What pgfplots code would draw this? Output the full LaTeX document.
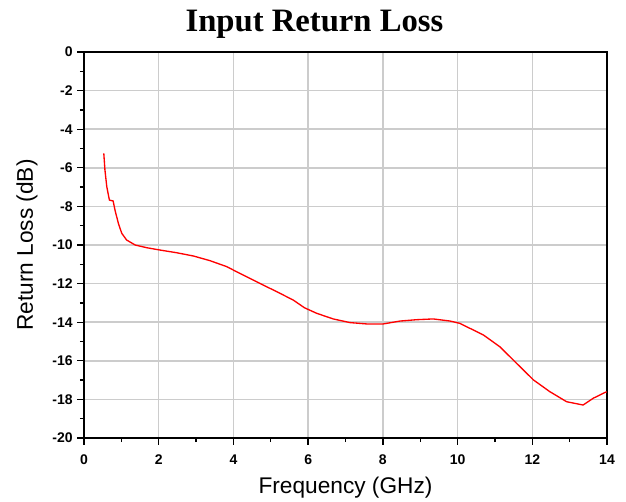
\documentclass[border=0pt]{standalone}
\usepackage{fontspec}
\setmainfont{Liberation Sans}
\newfontfamily\titlefont{Liberation Serif}
\usepackage{pgfplots}
\pgfplotsset{compat=1.18}
\definecolor{gridgray}{RGB}{204,204,204}
\begin{document}
\begin{tikzpicture}
\begin{axis}[
  scale only axis,
  width=392.25pt, height=289.5pt,
  xmin=0, xmax=14, ymin=-20, ymax=0,
  clip=false,
  xtick={0,2,...,14}, ytick={-20,-18,...,0},
  xticklabels={0,2,4,6,8,10,12,14},
  yticklabels={-20,-18,-16,-14,-12,-10,-8,-6,-4,-2,0},
  minor x tick num=1, minor y tick num=1,
  tick align=outside,
  xtick pos=bottom, ytick pos=left,
  major tick length=5pt, minor tick length=3pt,
  every tick/.style={black, line width=1pt},
  axis line style={line width=1.4pt},
  grid=major,
  major grid style={gridgray, line width=1.1pt},
  ticklabel style={font=\fontsize{10.5}{12}\selectfont\bfseries},
  x tick label style={yshift=-4pt},
  xlabel={Frequency (GHz)},
  ylabel={Return Loss (dB)},
  label style={font=\fontsize{17}{20}\selectfont},
  x label style={at={(axis description cs:0.5,-0.145)}, anchor=base},
  y label style={at={(axis description cs:-0.109,0.5)}, anchor=center},
]
\addplot[red, line width=1pt] coordinates {
  (0.53,-5.25) (0.56,-6.10) (0.61,-6.98) (0.68,-7.67) (0.78,-7.72)
  (0.83,-8.19) (0.92,-8.88) (1.01,-9.39) (1.14,-9.74) (1.37,-10.00)
  (1.68,-10.14) (2.03,-10.26) (2.48,-10.40) (2.93,-10.57) (3.37,-10.81)
  (3.82,-11.12) (4.00,-11.30) (4.71,-11.99) (5.16,-12.42) (5.60,-12.85)
  (5.90,-13.25) (6.23,-13.54) (6.67,-13.83) (7.12,-14.02) (7.57,-14.09)
  (8.01,-14.09) (8.46,-13.94) (8.90,-13.87) (9.35,-13.83) (9.80,-13.94)
  (10.06,-14.06) (10.69,-14.66) (11.13,-15.27) (11.58,-16.13) (12.03,-16.99)
  (12.47,-17.60) (12.92,-18.12) (13.36,-18.29) (13.63,-17.94) (13.99,-17.60)
};
\node[font=\titlefont\bfseries\fontsize{24.5}{28}\selectfont, anchor=base]
  at (rel axis cs:0.4407,1.0526) {Input Return Loss};
\coordinate (bl) at (rel axis cs:-0.1606,-0.1632);
\coordinate (tr) at (rel axis cs:1.0363,1.1347);
\end{axis}
\pgfresetboundingbox
\useasboundingbox (bl) rectangle (tr);
\end{tikzpicture}
\end{document}
